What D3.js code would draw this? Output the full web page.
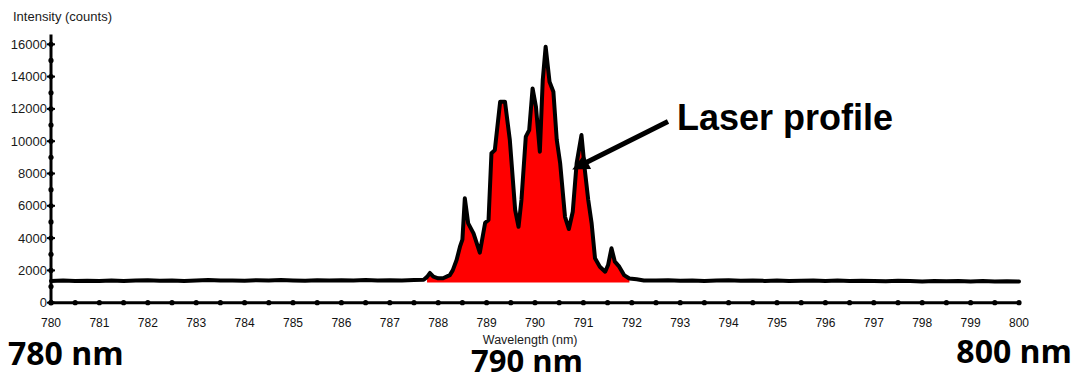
<!DOCTYPE html>
<html>
<head>
<meta charset="utf-8">
<script src="https://cdn.jsdelivr.net/npm/d3@7/dist/d3.min.js"></script>
<style>
  html, body { margin: 0; padding: 0; background: #fff; }
  svg { display: block; }
</style>
</head>
<body>
<svg id="chart" width="1076" height="376"></svg>
<script>
// Spectrometer trace: wavelength (nm) and detector intensity (counts)
const wavelength = [
  780.00, 780.25, 780.50, 780.75, 781.00, 781.25, 781.50, 781.75,
  782.00, 782.25, 782.50, 782.75, 783.00, 783.25, 783.50, 783.75,
  784.00, 784.25, 784.50, 784.75, 785.00, 785.25, 785.50, 785.75,
  786.00, 786.25, 786.50, 786.75, 787.00, 787.25, 787.50, 787.70,
  787.77, 787.83, 787.90, 788.00, 788.10, 788.24, 788.30, 788.38,
  788.45, 788.50, 788.55, 788.62, 788.73, 788.86, 788.97, 789.04,
  789.10, 789.17, 789.28, 789.38, 789.48, 789.59, 789.66, 789.72,
  789.81, 789.88, 789.95, 790.02, 790.10, 790.16, 790.22, 790.30,
  790.38, 790.45, 790.52, 790.62, 790.70, 790.78, 790.86, 790.96,
  791.03, 791.10, 791.17, 791.24, 791.34, 791.45, 791.51, 791.58,
  791.65, 791.74, 791.84, 791.95, 792.10, 792.25, 792.50, 792.75,
  793.00, 793.25, 793.50, 793.75, 794.00, 794.25, 794.50, 794.75,
  795.00, 795.25, 795.50, 795.75, 796.00, 796.25, 796.50, 796.75,
  797.00, 797.25, 797.50, 797.75, 798.00, 798.25, 798.50, 798.75,
  799.00, 799.25, 799.50, 799.75, 800.00
];
const counts = [
  1350, 1370, 1340, 1360, 1350, 1380, 1340, 1370,
  1390, 1360, 1380, 1350, 1370, 1400, 1370, 1380,
  1360, 1390, 1370, 1400, 1380, 1360, 1390, 1370,
  1390, 1380, 1400, 1370, 1390, 1380, 1400, 1420,
  1600, 1840, 1610, 1510, 1510, 1710, 2000, 2640,
  3470, 3900, 6460, 4910, 4290, 3100, 4950, 5120,
  9250, 9450, 12440, 12440, 10070, 5740, 4700, 6360,
  10280, 10690, 13270, 12130, 9350, 13780, 15850, 13680,
  13060, 10070, 8630, 5320, 4560, 5630, 8630, 10380,
  8210, 6360, 4910, 2750, 2230, 1920, 2330, 3370,
  2540, 2230, 1710, 1500, 1450, 1380, 1370, 1390,
  1360, 1380, 1350, 1370, 1390, 1360, 1380, 1350,
  1370, 1340, 1360, 1380, 1350, 1370, 1340, 1360,
  1350, 1330, 1360, 1340, 1320, 1350, 1330, 1340,
  1310, 1340, 1320, 1330, 1310
];

// Shaded laser band and its floor
const laserBand = [787.77, 791.95];
const fillFloor = 1250;

// Axis ticks
const xTickLabels = d3.range(780, 801, 1);
const xMinorTicks = d3.range(780, 800.01, 0.5);
const yTickLabels = d3.range(0, 16001, 2000);
const yMinorTicks = d3.range(0, 16001, 1000);
const yAxisTop = 16600;

// Callout labels
const bandLabels = [
  { text: "780 nm", value: 780 },
  { text: "790 nm", value: 790 },
  { text: "800 nm", value: 800 }
];
const calloutText = "Laser profile";

const svg = d3.select("#chart");

const x = d3.scaleLinear().domain([780, 800]).range([51, 1019]);
const y = d3.scaleLinear().domain([0, 16000]).range([302.7, 44.3]);

const points = wavelength.map((w, i) => ({ w, c: counts[i] }));
const bandPoints = points.filter(p => p.w >= laserBand[0] && p.w <= laserBand[1]);

// Red fill under the laser peak
svg.append("path")
  .datum(bandPoints)
  .attr("fill", "#ff0000")
  .attr("d", d3.area()
    .x(p => x(p.w))
    .y0(y(fillFloor))
    .y1(p => y(p.c)));

// Spectrum trace
svg.append("path")
  .datum(points)
  .attr("fill", "none")
  .attr("stroke", "#000")
  .attr("stroke-width", 4)
  .attr("stroke-linejoin", "round")
  .attr("stroke-linecap", "round")
  .attr("d", d3.line().x(p => x(p.w)).y(p => y(p.c)));

// Axes
const axisG = svg.append("g");
axisG.append("line")
  .attr("x1", x(780)).attr("x2", x(780))
  .attr("y1", y(0)).attr("y2", y(yAxisTop))
  .attr("stroke", "#000").attr("stroke-width", 3);
axisG.append("line")
  .attr("x1", x(780)).attr("x2", x(800))
  .attr("y1", y(0)).attr("y2", y(0))
  .attr("stroke", "#000").attr("stroke-width", 3);

axisG.selectAll("circle.yt")
  .data(yMinorTicks)
  .join("circle")
  .attr("class", "yt")
  .attr("cx", x(780)).attr("cy", d => y(d)).attr("r", 2.6)
  .attr("fill", "#000");
axisG.selectAll("line.ytm")
  .data(yTickLabels)
  .join("line")
  .attr("class", "ytm")
  .attr("x1", x(780) - 4).attr("x2", x(780) + 4)
  .attr("y1", d => y(d)).attr("y2", d => y(d))
  .attr("stroke", "#000").attr("stroke-width", 2);

axisG.selectAll("circle.xt")
  .data(xMinorTicks)
  .join("circle")
  .attr("class", "xt")
  .attr("cx", d => x(d)).attr("cy", y(0)).attr("r", 2.6)
  .attr("fill", "#000");

const labelFont = "'Liberation Sans', Arial, sans-serif";

axisG.selectAll("text.yl")
  .data(yTickLabels)
  .join("text")
  .attr("class", "yl")
  .attr("x", x(780) - 4)
  .attr("y", d => y(d) + 4.5)
  .attr("text-anchor", "end")
  .attr("font-family", labelFont)
  .attr("font-size", 13)
  .attr("fill", "#1a1a1a")
  .text(d => d);

axisG.selectAll("text.xl")
  .data(xTickLabels)
  .join("text")
  .attr("class", "xl")
  .attr("x", d => x(d))
  .attr("y", 326.5)
  .attr("text-anchor", "middle")
  .attr("font-family", labelFont)
  .attr("font-size", 12)
  .attr("fill", "#111")
  .text(d => d);

svg.append("text")
  .attr("x", 13).attr("y", 20.5)
  .attr("font-family", labelFont)
  .attr("font-size", 13)
  .attr("fill", "#1a1a1a")
  .text("Intensity (counts)");

svg.append("text")
  .attr("x", x(789.9)).attr("y", 344)
  .attr("text-anchor", "middle")
  .attr("font-family", labelFont)
  .attr("font-size", 12.5)
  .attr("fill", "#1a1a1a")
  .text("Wavelength (nm)");

// Large wavelength markers under the axis
const bigFont = "'Open Sans', 'Noto Sans', sans-serif";
const bigPos = { 780: { x: 8, anchor: "start", y: 365, size: 32 },
                 790: { x: x(790) - 8, anchor: "middle", y: 372, size: 31 },
                 800: { x: 1072, anchor: "end", y: 363, size: 32 } };
svg.selectAll("text.big")
  .data(bandLabels)
  .join("text")
  .attr("class", "big")
  .attr("x", d => bigPos[d.value].x)
  .attr("y", d => bigPos[d.value].y)
  .attr("text-anchor", d => bigPos[d.value].anchor)
  .attr("font-family", bigFont)
  .attr("font-weight", 700)
  .attr("font-size", d => bigPos[d.value].size)
  .attr("fill", "#000")
  .text(d => d.text);

// Callout arrow pointing at the peak near 791 nm
const arrowTip = { w: 790.77, c: 8250 };
const arrowStart = [668, 121.5];
const tipX = x(arrowTip.w), tipY = y(arrowTip.c);
const ang = Math.atan2(tipY - arrowStart[1], tipX - arrowStart[0]);
const headLen = 17, headHalf = 8;
const baseX = tipX - headLen * Math.cos(ang), baseY = tipY - headLen * Math.sin(ang);
svg.append("line")
  .attr("x1", arrowStart[0]).attr("y1", arrowStart[1])
  .attr("x2", baseX + 2 * Math.cos(ang)).attr("y2", baseY + 2 * Math.sin(ang))
  .attr("stroke", "#000").attr("stroke-width", 5);
svg.append("path")
  .attr("fill", "#000")
  .attr("d", d3.line()([
    [tipX, tipY],
    [baseX + headHalf * Math.sin(ang), baseY - headHalf * Math.cos(ang)],
    [baseX - headHalf * Math.sin(ang), baseY + headHalf * Math.cos(ang)]
  ]) + "Z");

svg.append("text")
  .attr("x", 677).attr("y", 130)
  .attr("font-family", labelFont)
  .attr("font-weight", 700)
  .attr("font-size", 36)
  .attr("fill", "#000")
  .text(calloutText);
</script>
</body>
</html>
